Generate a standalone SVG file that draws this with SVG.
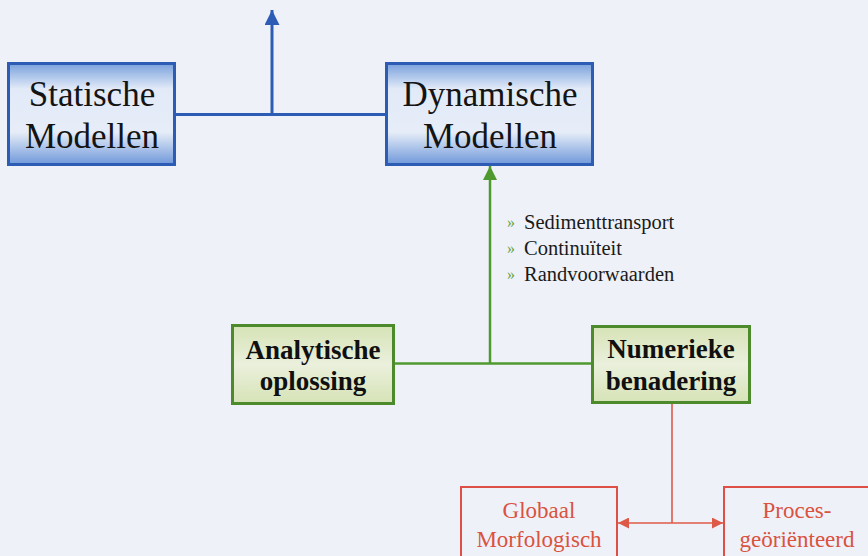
<svg xmlns="http://www.w3.org/2000/svg" width="868" height="556" viewBox="0 0 868 556">
  <style>
    .blue-box { stroke: #2c5cb4; stroke-width: 3; fill: url(#gBlue); }
    .green-box { stroke: #4c8a2c; stroke-width: 3; fill: url(#gGreen); }
    .red-box { stroke: #de4f45; stroke-width: 2; fill: none; }
    .t-big { font-family: "Liberation Serif", "Times New Roman", serif; font-size: 35px; fill: #141414; text-anchor: middle; }
    .t-bold { font-family: "Liberation Serif", "Times New Roman", serif; font-size: 27px; font-weight: bold; fill: #101010; text-anchor: middle; }
    .t-red { font-family: "Liberation Serif", "Times New Roman", serif; font-size: 23px; fill: #d9533f; text-anchor: middle; }
    .t-list { font-family: "Liberation Serif", "Times New Roman", serif; font-size: 20.5px; fill: #1a1a1a; }
    .bullet { font-family: "Liberation Serif", "Times New Roman", serif; fill: #6aa33e; font-size: 16px; }
    .c-blue { stroke: #2c5cb4; stroke-width: 3; fill: none; }
    .c-green { stroke: #4e9a2e; stroke-width: 2.5; fill: none; }
    .c-red { stroke: #de5a48; stroke-width: 1.6; fill: none; }
  </style>
  <defs>
    <linearGradient id="gBlue" x1="0" y1="0" x2="0" y2="1">
      <stop offset="0" stop-color="#78a0dc"/>
      <stop offset="0.25" stop-color="#e2eaf8"/>
      <stop offset="0.68" stop-color="#e6edf8"/>
      <stop offset="1" stop-color="#6f98da"/>
    </linearGradient>
    <linearGradient id="gGreen" x1="0" y1="0" x2="0" y2="1">
      <stop offset="0" stop-color="#d6e3b6"/>
      <stop offset="0.5" stop-color="#eaf0dc"/>
      <stop offset="1" stop-color="#d6e3b6"/>
    </linearGradient>
    <marker id="aBlue" viewBox="0 0 10 10" refX="10" refY="5" markerWidth="15" markerHeight="15" markerUnits="userSpaceOnUse" orient="auto">
      <path d="M0,0 L10,5 L0,10 z" fill="#2c5cb4"/>
    </marker>
    <marker id="aGreen" viewBox="0 0 10 10" refX="10" refY="5" markerWidth="14" markerHeight="14" markerUnits="userSpaceOnUse" orient="auto">
      <path d="M0,0 L10,5 L0,10 z" fill="#4e9a2e"/>
    </marker>
    <marker id="aRed" viewBox="0 0 10 10" refX="10" refY="5" markerWidth="12" markerHeight="11" markerUnits="userSpaceOnUse" orient="auto-start-reverse">
      <path d="M0,0 L10,5 L0,10 z" fill="#de5a48"/>
    </marker>
  </defs>

  <rect x="0" y="0" width="868" height="556" fill="#eff1f8"/>

  <g id="connectors">
    <line class="c-blue" x1="175" y1="114.5" x2="386" y2="114.5"/>
    <line class="c-blue" x1="272" y1="114.5" x2="272" y2="10" marker-end="url(#aBlue)"/>
    <line class="c-green" x1="394" y1="363.5" x2="592" y2="363.5"/>
    <line class="c-green" x1="490" y1="363.5" x2="490" y2="166" marker-end="url(#aGreen)"/>
    <line class="c-red" x1="672" y1="403" x2="672" y2="523"/>
    <line class="c-red" x1="618" y1="523" x2="723" y2="523" marker-start="url(#aRed)" marker-end="url(#aRed)"/>
  </g>

  <g id="statische">
    <rect class="blue-box" x="8.5" y="63.5" width="166" height="101"/>
    <text class="t-big" x="92" y="106">Statische</text>
    <text class="t-big" x="92" y="148">Modellen</text>
  </g>

  <g id="dynamische">
    <rect class="blue-box" x="386.5" y="63.5" width="206" height="101"/>
    <text class="t-big" x="490" y="106">Dynamische</text>
    <text class="t-big" x="490" y="148">Modellen</text>
  </g>

  <g id="condities">
    <text class="bullet" x="507" y="228">»</text>
    <text class="t-list" x="524" y="229">Sedimenttransport</text>
    <text class="bullet" x="507" y="254">»</text>
    <text class="t-list" x="524" y="255">Continuïteit</text>
    <text class="bullet" x="507" y="280">»</text>
    <text class="t-list" x="524" y="281">Randvoorwaarden</text>
  </g>

  <g id="analytische">
    <rect class="green-box" x="232.5" y="325.5" width="161" height="78"/>
    <text class="t-bold" x="313" y="359">Analytische</text>
    <text class="t-bold" x="313" y="390">oplossing</text>
  </g>

  <g id="numerieke">
    <rect class="green-box" x="592.5" y="326.5" width="157" height="76"/>
    <text class="t-bold" x="671" y="358">Numerieke</text>
    <text class="t-bold" x="671" y="390">benadering</text>
  </g>

  <g id="globaal">
    <rect class="red-box" x="461" y="487" width="156" height="80"/>
    <text class="t-red" x="539" y="518">Globaal</text>
    <text class="t-red" x="539" y="547">Morfologisch</text>
  </g>

  <g id="proces">
    <rect class="red-box" x="724" y="487" width="150" height="80"/>
    <text class="t-red" x="797" y="518">Proces-</text>
    <text class="t-red" x="797" y="547">geöriënteerd</text>
  </g>
</svg>
